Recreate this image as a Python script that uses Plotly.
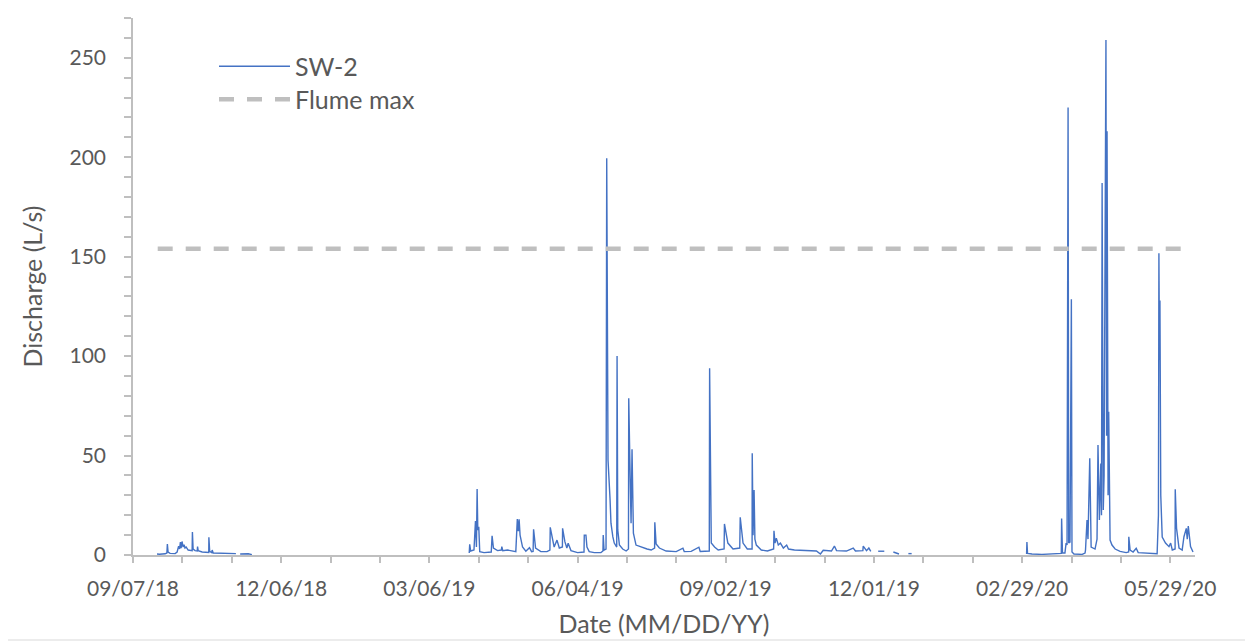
import plotly.graph_objects as go

# ---------------- data ----------------
dates = [
    # 2018 segment
    "2018-09-21 14:00", "2018-09-23 00:00", "2018-09-26 12:00", "2018-09-27 14:00", "2018-09-27 21:00",
    "2018-09-28 07:00", "2018-09-29 12:00", "2018-10-02 14:00", "2018-10-03 19:00", "2018-10-04 17:00",
    "2018-10-05 07:00", "2018-10-05 19:00", "2018-10-06 05:00", "2018-10-06 19:00", "2018-10-07 10:00",
    "2018-10-08 00:00", "2018-10-08 14:00", "2018-10-09 07:00", "2018-10-10 12:00", "2018-10-12 07:00",
    "2018-10-12 22:00", "2018-10-13 02:00", "2018-10-13 12:00", "2018-10-14 17:00", "2018-10-16 00:00",
    "2018-10-16 05:00", "2018-10-16 14:00", "2018-10-19 00:00", "2018-10-21 10:00", "2018-10-23 00:00",
    "2018-10-23 02:00", "2018-10-23 14:00", "2018-10-24 19:00", "2018-10-25 02:00", "2018-10-25 17:00",
    "2018-10-30 00:00", "2018-11-03 19:00", "2018-11-08 12:00", "2018-11-10 00:00",
    "2018-11-11 02:00", "2018-11-14 05:00", "2018-11-16 00:00", "2018-11-18 05:00", "2018-11-20 00:00",
    # 2019 segment
    "2019-03-30 05:00", "2019-03-30 12:00", "2019-03-31 02:00", "2019-04-02 02:00", "2019-04-03 00:00",
    "2019-04-03 14:00", "2019-04-04 00:00", "2019-04-04 10:00", "2019-04-05 00:00", "2019-04-05 14:00",
    "2019-04-08 05:00", "2019-04-12 14:00", "2019-04-13 02:00", "2019-04-13 22:00", "2019-04-16 10:00",
    "2019-04-18 17:00", "2019-04-19 00:00", "2019-04-19 14:00", "2019-04-22 10:00", "2019-04-27 12:00",
    "2019-04-28 10:00", "2019-04-29 00:00", "2019-04-29 12:00", "2019-04-30 02:00", "2019-05-01 14:00",
    "2019-05-03 14:00", "2019-05-05 19:00", "2019-05-07 02:00", "2019-05-08 00:00", "2019-05-08 07:00",
    "2019-05-09 12:00", "2019-05-12 17:00", "2019-05-16 10:00", "2019-05-18 05:00", "2019-05-18 10:00",
    "2019-05-19 05:00", "2019-05-20 19:00", "2019-05-22 12:00", "2019-05-23 22:00", "2019-05-25 19:00",
    "2019-05-25 22:00", "2019-05-27 07:00", "2019-05-28 12:00", "2019-05-29 07:00", "2019-05-31 00:00",
    "2019-06-04 00:00", "2019-06-07 22:00", "2019-06-08 02:00", "2019-06-09 02:00", "2019-06-09 17:00",
    "2019-06-11 02:00", "2019-06-14 05:00", "2019-06-18 05:00", "2019-06-19 10:00", "2019-06-19 14:00",
    "2019-06-20 02:00", "2019-06-21 07:00", "2019-06-21 17:00", "2019-06-22 12:00", "2019-06-23 17:00",
    "2019-06-24 07:00", "2019-06-25 10:00", "2019-06-26 07:00", "2019-06-27 19:00", "2019-06-28 00:00",
    "2019-06-28 10:00", "2019-06-29 10:00", "2019-07-01 10:00", "2019-07-03 12:00", "2019-07-04 22:00",
    "2019-07-05 02:00", "2019-07-05 17:00", "2019-07-06 12:00", "2019-07-07 02:00", "2019-07-07 22:00",
    "2019-07-09 12:00", "2019-07-12 14:00", "2019-07-16 05:00", "2019-07-18 17:00", "2019-07-20 19:00",
    "2019-07-20 22:00", "2019-07-21 17:00", "2019-07-23 17:00", "2019-07-27 19:00", "2019-08-02 22:00",
    "2019-08-07 00:00", "2019-08-07 19:00", "2019-08-12 00:00", "2019-08-16 17:00", "2019-08-17 12:00",
    "2019-08-23 00:00", "2019-08-23 05:00", "2019-08-24 05:00", "2019-08-26 05:00", "2019-08-28 10:00",
    "2019-09-01 00:00", "2019-09-01 05:00", "2019-09-03 07:00", "2019-09-06 10:00", "2019-09-10 12:00",
    "2019-09-10 19:00", "2019-09-12 12:00", "2019-09-15 02:00", "2019-09-18 00:00", "2019-09-18 02:00",
    "2019-09-18 14:00", "2019-09-19 05:00", "2019-09-19 17:00", "2019-09-20 14:00", "2019-09-23 14:00",
    "2019-09-27 07:00", "2019-10-01 02:00", "2019-10-01 07:00", "2019-10-01 22:00", "2019-10-02 17:00",
    "2019-10-03 22:00", "2019-10-05 05:00", "2019-10-07 00:00", "2019-10-09 00:00", "2019-10-10 02:00",
    "2019-10-13 17:00", "2019-10-21 00:00", "2019-10-27 02:00", "2019-10-29 12:00", "2019-10-31 05:00",
    "2019-11-05 05:00", "2019-11-07 00:00", "2019-11-08 07:00", "2019-11-14 07:00", "2019-11-18 10:00",
    "2019-11-19 19:00", "2019-11-24 07:00", "2019-11-24 12:00", "2019-11-26 12:00", "2019-11-27 22:00",
    "2019-11-29 02:00", "2019-12-01 00:00",
    "2019-12-03 14:00", "2019-12-07 07:00", "2019-12-09 00:00",
    "2019-12-12 19:00", "2019-12-14 19:00", "2019-12-16 05:00", "2019-12-18 00:00",
    "2019-12-21 22:00", "2019-12-23 22:00", "2019-12-25 00:00",
    # 2020 segment
    "2020-03-02 17:00", "2020-03-02 22:00", "2020-03-03 07:00", "2020-03-06 00:00", "2020-03-12 00:00",
    "2020-03-18 02:00", "2020-03-23 19:00", "2020-03-24 00:00", "2020-03-24 12:00", "2020-03-26 00:00",
    "2020-03-26 17:00", "2020-03-27 07:00", "2020-03-27 22:00", "2020-03-28 07:00", "2020-03-29 02:00",
    "2020-03-29 22:00", "2020-03-30 07:00", "2020-03-31 12:00", "2020-04-05 10:00", "2020-04-07 05:00",
    "2020-04-07 12:00", "2020-04-08 10:00", "2020-04-09 00:00", "2020-04-10 02:00", "2020-04-10 22:00",
    "2020-04-13 07:00", "2020-04-14 12:00", "2020-04-15 02:00", "2020-04-15 22:00", "2020-04-16 19:00",
    "2020-04-17 05:00", "2020-04-17 14:00", "2020-04-18 07:00", "2020-04-18 19:00", "2020-04-19 22:00",
    "2020-04-20 07:00", "2020-04-20 14:00", "2020-04-21 05:00", "2020-04-21 14:00", "2020-04-22 10:00",
    "2020-04-23 14:00", "2020-04-25 12:00", "2020-04-28 12:00", "2020-05-02 05:00", "2020-05-03 17:00",
    "2020-05-03 19:00", "2020-05-04 14:00", "2020-05-06 10:00", "2020-05-08 07:00", "2020-05-09 12:00",
    "2020-05-15 00:00", "2020-05-21 00:00", "2020-05-21 19:00", "2020-05-22 00:00", "2020-05-22 02:00",
    "2020-05-22 10:00", "2020-05-22 17:00", "2020-05-23 05:00", "2020-05-24 02:00", "2020-05-26 02:00",
    "2020-05-28 05:00", "2020-05-29 05:00", "2020-05-30 05:00", "2020-05-31 22:00", "2020-06-01 00:00",
    "2020-06-01 19:00", "2020-06-03 07:00", "2020-06-05 05:00", "2020-06-06 07:00", "2020-06-07 17:00",
    "2020-06-08 07:00", "2020-06-08 22:00", "2020-06-10 07:00", "2020-06-11 19:00",
]

discharge = [
    # 2018 segment
    0.5, 0.4, 0.6, 1.0, 5.5,
    1.5, 0.8, 0.7, 1.5, 4.5,
    3.0, 6.5, 3.5, 6.8, 4.0,
    5.2, 3.5, 4.0, 2.5, 2.0,
    2.2, 11.5, 3.0, 2.2, 2.0,
    4.2, 2.2, 1.5, 1.2, 1.3,
    8.9, 1.8, 1.2, 2.5, 1.0,
    0.8, 0.9, 0.7, None,
    0.5, 0.8, 0.6, 0.2, None,
    # 2019 segment
    1.0, 5.4, 2.0, 2.5, 17.1,
    4.0, 33.2, 12.6, 14.2, 1.7,
    1.2, 1.5, 9.6, 3.5, 2.2,
    2.5, 4.2, 2.2, 2.5, 1.7,
    18.1, 12.0, 18.0, 10.0, 4.0,
    1.9, 3.7, 1.7, 1.8, 12.9,
    3.5, 1.7, 1.7, 2.5, 13.9,
    10.0, 4.0, 7.5, 3.5, 4.0,
    13.4, 6.7, 3.5, 5.9, 2.2,
    1.2, 1.5, 10.0, 10.0, 4.0,
    1.7, 1.2, 1.2, 2.0, 10.0,
    2.5, 3.0, 199.5, 47.8, 28.5,
    16.0, 9.2, 6.0, 4.0, 100.0,
    12.6, 5.0, 3.0, 2.0, 3.0,
    78.8, 49.5, 16.0, 53.2, 11.0,
    5.0, 4.0, 3.0, 2.5, 3.5,
    16.4, 5.5, 3.5, 2.0, 1.7,
    3.4, 1.7, 1.8, 3.9, 1.8,
    2.0, 93.9, 6.0, 4.0, 2.5,
    3.0, 15.6, 6.0, 3.0, 3.5,
    19.0, 6.0, 3.0, 3.0, 51.2,
    10.0, 32.7, 8.0, 5.0, 2.5,
    2.0, 3.0, 12.2, 6.0, 8.5,
    5.0, 6.0, 3.5, 5.0, 3.0,
    2.5, 2.2, 2.0, 0.5, 2.4,
    2.0, 4.5, 2.2, 2.0, 3.5,
    2.0, 2.2, 4.5, 2.2, 3.5,
    1.8, None,
    1.9, 1.9, None,
    1.5, 0.8, 0.5, None,
    0.7, 0.7, None,
    # 2020 segment
    0.5, 6.5, 0.8, 0.5, 0.3,
    0.4, 0.8, 18.4, 1.0, 1.0,
    6.0, 5.0, 225.0, 6.0, 6.5,
    128.6, 1.5, 0.5, 0.3, 1.0,
    2.5, 17.6, 8.0, 48.6, 4.0,
    3.0, 8.0, 55.3, 17.6, 46.0,
    20.0, 187.0, 22.6, 40.0, 259.0,
    60.0, 213.0, 30.0, 72.0, 7.5,
    5.0, 3.0, 1.8, 1.2, 1.5,
    9.2, 2.5, 1.5, 3.4, 1.2,
    0.8, 0.6, 20.0, 99.0, 151.7,
    98.0, 128.0, 30.0, 9.0, 6.0,
    4.2, 6.0, 2.5, 3.0, 33.0,
    13.4, 3.5, 2.5, 9.2, 13.4,
    8.0, 14.6, 4.2, 1.5,
]

flume_dates = ["2018-09-22", "2020-06-05"]
flume_max = [154, 154]

tick_dates = ["2018-09-07", "2018-12-06", "2019-03-06", "2019-06-04",
              "2019-09-02", "2019-12-01", "2020-02-29", "2020-05-29"]
tick_labels = ["09/07/18", "12/06/18", "03/06/19", "06/04/19",
               "09/02/19", "12/01/19", "02/29/20", "05/29/20"]

# ---------------- figure ----------------
FONT = "Lato"
TXT = "#595959"
AX = "#bfbfbf"

fig = go.Figure()
fig.add_trace(go.Scatter(
    x=dates, y=discharge, mode="lines", name="SW-2", legend="legend",
    line=dict(color="#4472C4", width=1.4), connectgaps=False,
))
fig.add_trace(go.Scatter(
    x=flume_dates, y=flume_max, mode="lines", name="Flume max", legend="legend2",
    line=dict(color="#BFBFBF", width=4.5, dash="15px,13px"),
))

# the page body adds an 8px margin, so the figure is drawn 8px smaller / shifted
W, H = 1245, 635
L, R, T, B = 125, 58, 10, 88
pw, ph = W - L - R, H - T - B

leg_common = dict(xanchor="left", yanchor="top", bgcolor="rgba(0,0,0,0)",
                  font=dict(size=25, color=TXT, family=FONT), itemwidth=71)

fig.update_layout(
    width=W, height=H,
    margin=dict(l=L, r=R, t=T, b=B),
    paper_bgcolor="white", plot_bgcolor="white",
    font=dict(family=FONT, color=TXT, size=21),
    showlegend=True,
    legend=dict(x=(206 - L) / pw, y=(547 - 35.5) / ph, **leg_common),
    legend2=dict(x=(206 - L) / pw, y=(547 - 68.5) / ph, **leg_common),
    xaxis=dict(
        type="date",
        range=["2018-09-07", "2020-06-13"],
        tickvals=tick_dates, ticktext=tick_labels,
        ticks="outside", ticklen=6, tickcolor=AX, tickwidth=1.5,
        minor=dict(ticks="outside", ticklen=6, tickcolor=AX, tickwidth=1.5,
                   tick0="2018-09-07", dtick=30 * 86400000),
        showline=True, linecolor=AX, linewidth=1.5,
        showgrid=False, zeroline=False,
        tickfont=dict(size=21, color=TXT, family=FONT),
        ticklabelstandoff=8,
        title=dict(text="Date (MM/DD/YY)", font=dict(size=25, color=TXT, family=FONT), standoff=17),
    ),
    yaxis=dict(
        range=[0, 270],
        tickvals=[0, 50, 100, 150, 200, 250],
        ticks="outside", ticklen=7, tickcolor=AX, tickwidth=1.5,
        minor=dict(ticks="outside", ticklen=7, tickcolor=AX, tickwidth=1.5, tick0=0, dtick=10),
        showline=True, linecolor=AX, linewidth=1.5,
        showgrid=False, zeroline=False,
        tickfont=dict(size=21, color=TXT, family=FONT),
        ticklabelstandoff=14,
        title=dict(text="Discharge (L/s)", font=dict(size=25, color=TXT, family=FONT), standoff=20),
    ),
)

# chart-area border
fig.add_shape(
    type="rect", xref="paper", yref="paper",
    x0=(-4 - L) / pw, x1=(1241 - L) / pw,
    y0=(547 - 632) / ph, y1=(547 + 4) / ph,
    line=dict(color="#d9d9d9", width=1), fillcolor="rgba(0,0,0,0)", layer="below",
)

fig.write_html("out.html")
